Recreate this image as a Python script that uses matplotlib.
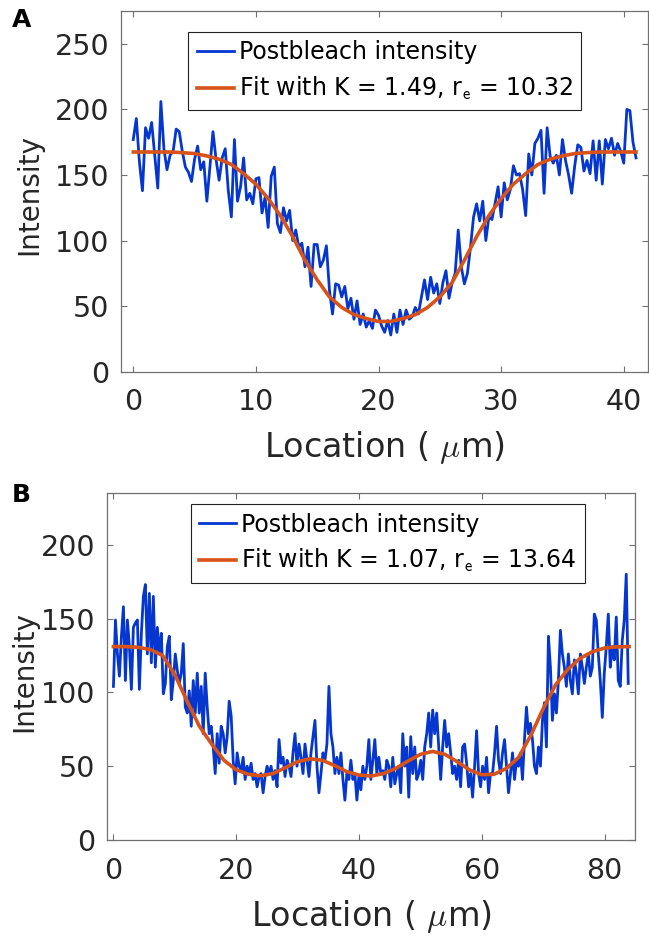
import numpy as np
import matplotlib.pyplot as plt

plt.rcParams['font.family'] = ['DejaVu Sans']
plt.rcParams['mathtext.fontset'] = 'cm'

# ---- panel A: postbleach profile, sampled every 0.25 um ----
a_step = 0.25
a_intensity = [
    177, 193, 160, 138, 186, 178, 190, 165, 140, 206,
    170, 154, 165, 168, 185, 183, 168, 156, 152, 145,
    162, 172, 154, 160, 130, 156, 183, 162, 146, 163,
    170, 138, 118, 177, 130, 141, 163, 131, 136, 128,
    147, 148, 121, 133, 110, 149, 156, 113, 106, 125,
    115, 123, 100, 108, 95, 98, 80, 95, 65, 97,
    97, 80, 85, 96, 62, 44, 67, 66, 57, 65,
    48, 56, 40, 54, 36, 44, 34, 39, 33, 47,
    43,
    35, 30, 39, 28, 44, 30, 47, 36, 47, 40,
    42, 49, 44, 57, 70, 55, 72, 60, 67, 52,
    68, 77, 56, 68, 75, 108, 80, 67, 75, 95,
    118, 128, 115, 130, 100, 118, 116, 128, 141, 118,
    144, 131, 139, 157, 150, 151, 139, 119, 166, 150,
    174, 178, 184, 136, 186, 164, 159, 165, 150, 177,
    161, 150, 136, 157, 173, 171, 153, 161, 151, 176,
    146, 176, 143, 177, 170, 178, 165, 174, 168, 159,
    200, 199, 175, 163,
]
# fit curve, one value per um (0..41)
a_fit = [
    167.5, 167.5, 167.5, 167.5, 167, 166.3, 164.5, 162, 158, 151,
    143, 132, 119, 103, 85, 70, 57, 49, 43.5, 40.5,
    38.3, 38.3, 40.5, 43.5, 49, 57, 68, 85, 103, 119,
    132, 143, 151, 158, 162, 164.5, 166.3, 167, 167.5, 167.5,
    167.5, 167.5,
]
a_labels = ['Postbleach intensity', r'Fit with K = 1.49, r$_\mathsf{e}$ = 10.32']

# ---- panel B: postbleach profile, sampled every 0.325 um ----
b_step = 0.325
b_intensity = [
    104, 149, 126, 111, 138, 158, 108, 149, 131, 102,
    144, 147, 149, 102, 140, 165, 173, 126, 167, 120,
    165, 117, 144, 126, 140, 99, 106, 131, 138, 95,
    108, 126, 115, 106, 113, 133, 90, 86, 101, 77,
    108, 86, 113, 86, 104, 72, 113, 90, 72, 77,
    63, 45, 72, 52, 77, 72, 59, 70, 94, 84,
    54, 38, 59, 50, 47, 56, 41, 50, 45, 52,
    41, 45, 36, 43, 45, 32, 43, 50, 45, 50,
    41, 47, 36, 68, 52, 56, 43, 54, 50, 43,
    59, 72, 50, 65, 56, 45, 65, 54, 43, 59,
    70, 81, 50, 32, 45, 59, 54, 65, 104, 72,
    63, 45, 56, 45, 59, 41, 27, 45, 41, 54,
    41, 45, 27, 43, 34, 50, 41, 50, 68, 41,
    54, 68, 45, 56, 45, 47, 41, 54, 50, 36,
    56, 38, 45, 50, 32, 72, 50, 63, 29, 70,
    45, 63, 41, 45, 54, 41, 63, 72, 86, 63,
    88, 72, 86, 63, 41, 63, 81, 63, 72, 59,
    45, 50, 41, 54, 36, 63, 65, 52, 36, 45,
    29, 50, 74, 45, 36, 50, 41, 56, 32, 45,
    45, 59, 77, 54, 45, 59, 68, 50, 32, 45,
    59, 41, 54, 50, 59, 41, 68, 90, 72, 79,
    68, 50, 45, 63, 50, 81, 93, 63, 138, 117,
    81, 99, 86, 108, 142, 126, 117, 104, 126, 108,
    99, 122, 113, 99, 126, 117, 106, 117, 126, 111,
    117, 153, 149, 126, 108, 83, 113, 131, 153, 117,
    131, 122, 151, 108, 104, 135, 149, 180, 106,
]
# fit curve, one value every 2 um (0..84)
b_fit = [
    131, 131, 130.5, 129, 125, 112, 94, 77, 65, 54,
    47.5, 44.5, 43.5, 45, 49, 53, 55, 54, 50.5, 46.3,
    44, 43.3, 45, 48.5, 53.5, 58, 60, 58, 53, 47.5,
    44.2, 44.5, 48.5, 56, 71, 89, 105, 115.5, 123, 127.5,
    130, 130.8, 131,
]
b_labels = ['Postbleach intensity', r'Fit with K = 1.07, r$_\mathsf{e}$ = 13.64']

BLUE = '#0536cf'
ORANGE = '#d95319'
SPINE = '#707070'
TEXT = '#262626'
W, H = 649, 936


def draw_panel(ax, x, y, xf, yf, labels, xlim, ylim, xticks, yticks,
               leg_anchor, ylab_xy, xlab_y):
    ax.plot(x, y, color=BLUE, lw=2.0, label=labels[0])
    ax.plot(xf, yf, color=ORANGE, lw=2.6, label=labels[1])
    ax.set_xlim(*xlim)
    ax.set_ylim(*ylim)
    ax.set_xticks(xticks)
    ax.set_yticks(yticks)
    for s in ax.spines.values():
        s.set_color(SPINE)
        s.set_linewidth(0.9)
    ax.tick_params(direction='in', top=True, right=True, length=4,
                   width=0.8, color=SPINE, labelsize=20.5, labelcolor=TEXT)
    ax.tick_params(axis='y', pad=8.5)
    ax.tick_params(axis='x', pad=12)
    ax.set_ylabel('Intensity', fontsize=20, color=TEXT)
    ax.yaxis.set_label_coords(*ylab_xy)
    ax.set_xlabel(r'Location ( $\mu$m)', fontsize=24, color=TEXT)
    ax.xaxis.set_label_coords(0.5, xlab_y)
    leg = ax.legend(loc='upper center', bbox_to_anchor=leg_anchor,
                    fontsize=17, frameon=True, fancybox=False,
                    edgecolor='#222222', framealpha=1, borderaxespad=0,
                    handlelength=1.57, handletextpad=0.21, borderpad=0.35,
                    labelspacing=0.45)
    leg.get_frame().set_linewidth(0.8)


fig = plt.figure(figsize=(W / 100, H / 100), dpi=100)

axA = fig.add_axes([121 / W, 1 - 371.7 / H, (648.3 - 121) / W, (371.7 - 11) / H])
xa = np.arange(len(a_intensity)) * a_step
xa_fit = np.arange(len(a_fit))
draw_panel(axA, xa, a_intensity, xa_fit, a_fit, a_labels,
           (-1, 42), (0, 275), [0, 10, 20, 30, 40], [0, 50, 100, 150, 200, 250],
           (0.5, 0.942), (-0.148, 0.49), -0.16)

axB = fig.add_axes([107.3 / W, 1 - 840 / H, (635.3 - 107.3) / W, (840 - 493) / H])
xb = np.arange(len(b_intensity)) * b_step
xb_fit = np.arange(len(b_fit)) * 2
draw_panel(axB, xb, b_intensity, xb_fit, b_fit, b_labels,
           (-1, 85), (0, 235), [0, 20, 40, 60, 80], [0, 50, 100, 150, 200],
           (0.531, 0.967), (-0.13, 0.484), -0.168)

fig.text(12 / W, 1 - 8 / H, 'A', fontsize=18, fontweight='bold', ha='left', va='top')
fig.text(12 / W, 1 - 483 / H, 'B', fontsize=18, fontweight='bold', ha='left', va='top')

fig.savefig('out.png', dpi=100)
